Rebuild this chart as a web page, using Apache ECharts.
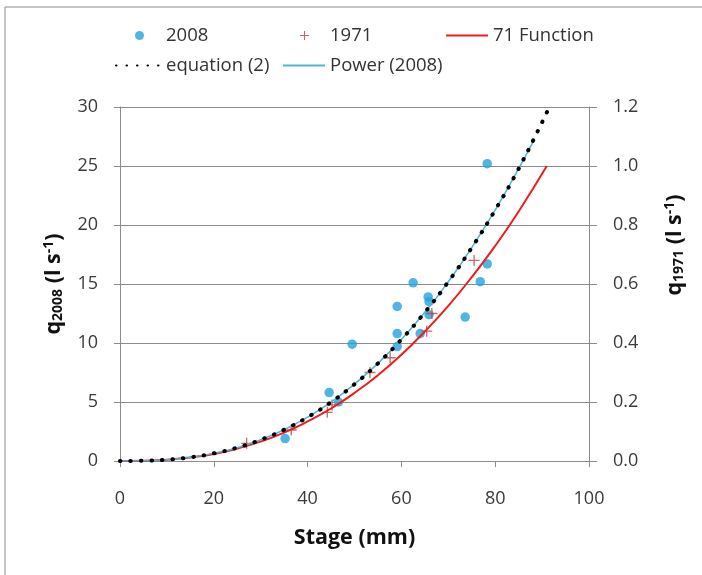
<!DOCTYPE html>
<html>
<head>
<meta charset="utf-8">
<script src="https://cdn.jsdelivr.net/npm/echarts@6/dist/echarts.min.js"></script>
<style>
  html, body { margin: 0; padding: 0; background: #fff; }
  #chart { width: 702px; height: 575px; }
</style>
</head>
<body>
<div id="chart"></div>
<script>
  // 2008 measurements (stage mm, q l/s) - left axis
  const obs2008 = [
    [35.2, 1.9], [44.6, 5.8], [46.6, 5.0], [49.5, 9.9], [59.1, 9.7], [59.1, 10.8],
    [59.1, 13.1], [62.5, 15.1], [64.0, 10.8], [65.7, 13.9], [65.9, 13.5], [65.9, 12.4],
    [73.6, 12.2], [76.8, 15.2], [78.3, 16.7], [78.3, 25.2]
  ];
  // 1971 measurements - right axis
  const obs1971 = [
    [27.0, 0.06], [36.5, 0.105], [44.2, 0.165], [45.2, 0.19], [53.3, 0.30],
    [57.6, 0.35], [65.4, 0.44], [66.5, 0.50], [75.5, 0.68]
  ];
  // curves
  const eqStage = [0, 5, 10, 15, 20, 25, 30, 35, 40, 45, 50, 55, 60, 65, 70, 75, 80, 85, 91.2];
  const eqQ = [0, 0.02, 0.11, 0.31, 0.65, 1.13, 1.80, 2.65, 3.71, 4.99, 6.51, 8.27, 10.30, 12.60, 15.19, 18.08, 21.27, 24.77, 29.7];
  const powerStage = [0, 5, 10, 15, 20, 25, 30, 35, 40, 45, 50, 55, 60, 65, 70, 75, 80, 85, 88];
  const powerQ = [0, 0.02, 0.11, 0.31, 0.65, 1.13, 1.80, 2.65, 3.71, 4.99, 6.51, 8.27, 10.30, 12.60, 15.19, 18.08, 21.27, 24.77, 27.0];
  const funcStage = [0, 5, 10, 15, 20, 25, 30, 35, 40, 45, 50, 55, 60, 65, 70, 75, 80, 85, 91];
  const funcQ = [0, 0.001, 0.004, 0.012, 0.024, 0.042, 0.066, 0.096, 0.134, 0.178, 0.231, 0.291, 0.360, 0.439, 0.526, 0.623, 0.729, 0.846, 1.0];

  const zip = (xs, ys) => xs.map((x, i) => [x, ys[i]]);

  const font = "Open Sans";
  const gridColor = "#8c8c8c";
  const labelColor = "#3a3a3a";
  const plus = "path://M4.4,0H5.6V4.4H10V5.6H5.6V10H4.4V5.6H0V4.4H4.4Z";

  const chart = echarts.init(document.getElementById("chart"));

  const legendText = { color: "#333", fontSize: 18.5, fontFamily: font };
  const nameRich = {
    sub: { fontSize: 14, fontWeight: "bold", color: "#111", fontFamily: font, padding: [9, 0, 0, 0] },
    sup: { fontSize: 14, fontWeight: "bold", color: "#111", fontFamily: font, padding: [0, 0, 9, 0] }
  };
  const option = {
    animation: false,
    backgroundColor: "#fff",
    graphic: [{
      type: "rect",
      shape: { x: 5, y: 7, width: 800, height: 700 },
      style: { fill: "none", stroke: gridColor, lineWidth: 1 }
    }],
    legend: [
      { data: ["2008"], left: 135, top: 26, padding: 0, itemWidth: 9, itemHeight: 9,
        textStyle: Object.assign({ padding: [0, 0, 0, 17] }, legendText) },
      { data: ["1971"], left: 300, top: 26, padding: 0, itemWidth: 9, itemHeight: 9,
        textStyle: Object.assign({ padding: [0, 0, 0, 16] }, legendText) },
      { data: ["71 Function"], left: 445, top: 26, padding: 0, itemWidth: 42, itemHeight: 9,
        itemStyle: { opacity: 0 }, textStyle: legendText },
      { data: ["equation (2)"], left: 115, top: 56, padding: 0, itemWidth: 45, itemHeight: 9,
        itemStyle: { opacity: 0 }, textStyle: legendText },
      { data: ["Power (2008)"], left: 282, top: 56, padding: 0, itemWidth: 42, itemHeight: 9,
        itemStyle: { opacity: 0 }, textStyle: legendText }
    ],
    grid: { left: 120, right: 113, top: 107, bottom: 114 },
    xAxis: {
      type: "value", min: 0, max: 100, interval: 20,
      name: "Stage (mm)", nameLocation: "middle", nameGap: 66,
      nameTextStyle: { fontSize: 21.5, fontWeight: "bold", color: "#111", fontFamily: font },
      axisLine: { lineStyle: { color: gridColor } },
      axisTick: { show: true, length: 6, lineStyle: { color: gridColor } },
      axisLabel: { margin: 29, fontSize: 18, color: labelColor, fontFamily: font },
      splitLine: { show: false }
    },
    yAxis: [
      {
        type: "value", min: 0, max: 30, interval: 5,
        name: "q{sub|2008} (l s{sup|-1})", nameLocation: "middle", nameGap: 55, nameRotate: 90,
        nameTextStyle: {
          fontSize: 21.5, fontWeight: "bold", color: "#111", fontFamily: font, rich: nameRich
        },
        axisLine: { show: true, lineStyle: { color: gridColor } },
        axisTick: { show: true, length: 6, lineStyle: { color: gridColor } },
        axisLabel: { margin: 22, fontSize: 18, color: labelColor, fontFamily: font },
        splitLine: { show: true, lineStyle: { color: gridColor, width: 1 } }
      },
      {
        type: "value", min: 0, max: 1.2, interval: 0.2, position: "right",
        name: "q{sub|1971} (l s{sup|-1})", nameLocation: "middle", nameGap: 74, nameRotate: 90,
        nameTextStyle: {
          fontSize: 21.5, fontWeight: "bold", color: "#111", fontFamily: font,
          padding: [0, 0, 0, 78], rich: nameRich
        },
        axisLine: { show: true, lineStyle: { color: gridColor } },
        axisTick: { show: true, length: 8, lineStyle: { color: gridColor } },
        axisLabel: { margin: 24, fontSize: 18, color: labelColor, fontFamily: font,
          formatter: (v) => v.toFixed(1) },
        splitLine: { show: false }
      }
    ],
    series: [
      {
        name: "2008", type: "scatter", yAxisIndex: 0, data: obs2008,
        symbol: "circle", symbolSize: 9.5,
        itemStyle: { color: "#25a3dd" }
      },
      {
        name: "1971", type: "scatter", yAxisIndex: 1, data: obs1971,
        symbol: plus, symbolSize: 11,
        itemStyle: { color: "#b5453f" }
      },
      {
        name: "71 Function", type: "line", yAxisIndex: 1, data: zip(funcStage, funcQ),
        smooth: true, symbol: "none",
        lineStyle: { color: "#ee1c1c", width: 2 },
        itemStyle: { color: "#ee1c1c" }
      },
      {
        name: "Power (2008)", type: "line", yAxisIndex: 0, data: zip(powerStage, powerQ),
        smooth: true, symbol: "none",
        lineStyle: { color: "#4bb6d8", width: 1.5 },
        itemStyle: { color: "#4bb6d8" }
      },
      {
        name: "equation (2)", type: "line", yAxisIndex: 0, data: zip(eqStage, eqQ),
        smooth: true, symbol: "none",
        lineStyle: { color: "#000", width: 4, type: [0.5, 10], cap: "round" },
        itemStyle: { color: "#000" }
      }
    ]
  };
  chart.setOption(option);
</script>
</body>
</html>
